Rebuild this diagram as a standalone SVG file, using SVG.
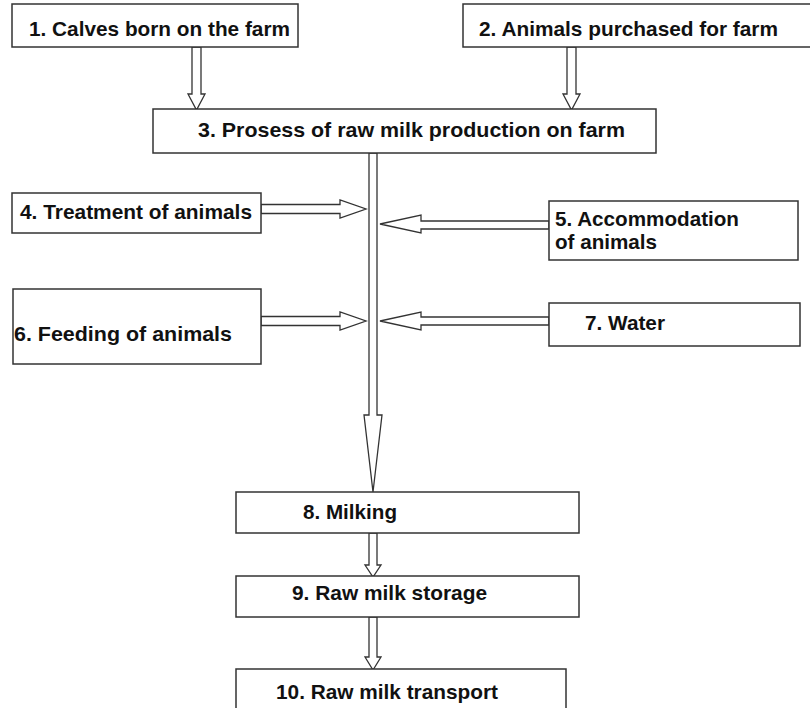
<svg xmlns="http://www.w3.org/2000/svg" width="810" height="708" viewBox="0 0 810 708">
<style>
.box{fill:#fff;stroke:#333;stroke-width:1.5}
.t{font-family:"Liberation Sans",Arial,sans-serif;font-weight:bold;font-size:21px;fill:#111}
.arr{fill:#fff;stroke:#333;stroke-width:1.3;stroke-linejoin:miter}
</style>
<rect width="810" height="708" fill="#fff"/>
<g id="connectors">
<polygon class="arr" points="192,47 201,47 201,94 205,94 196.5,110 188,94 192,94"/>
<polygon class="arr" points="567,47 576,47 576,94 580,94 571.5,110 563,94 567,94"/>
<polygon class="arr" points="369,153 377,153 377,415 382,415 373,492 364,415 369,415"/>
<polygon class="arr" points="261,204.5 340,204.5 340,200 366,209 340,218 340,213.5 261,213.5"/>
<polygon class="arr" points="549,221 421,221 421,215 380,224 421,233 421,229 549,229"/>
<polygon class="arr" points="261,316.5 340,316.5 340,312 366,321 340,330 340,325.5 261,325.5"/>
<polygon class="arr" points="549,317 421,317 421,312 380,321 421,330 421,325 549,325"/>
<polygon class="arr" points="369,533 377,533 377,565 381,565 373,577 365,565 369,565"/>
<polygon class="arr" points="369,617 377,617 377,657 381,657 373,670 365,657 369,657"/>
</g>
<g id="n1"><rect class="box" x="12" y="4" width="286" height="43"/><text class="t" x="29" y="36" textLength="261" lengthAdjust="spacingAndGlyphs" font-size="23.5">1. Calves born on the farm</text></g>
<g id="n2"><rect class="box" x="463" y="4" width="350" height="43"/><text class="t" x="479" y="36" textLength="299" lengthAdjust="spacingAndGlyphs" font-size="23.5">2. Animals purchased for farm</text></g>
<g id="n3"><rect class="box" x="153" y="109" width="503" height="44"/><text class="t" x="198" y="137" textLength="427" lengthAdjust="spacingAndGlyphs">3. Prosess of raw milk production on farm</text></g>
<g id="n4"><rect class="box" x="12" y="193" width="249" height="40"/><text class="t" x="20" y="219" textLength="232" lengthAdjust="spacingAndGlyphs">4. Treatment of animals</text></g>
<g id="n5"><rect class="box" x="549" y="201" width="249" height="59"/><text class="t" x="555" y="226" textLength="184" lengthAdjust="spacingAndGlyphs">5. Accommodation</text><text class="t" x="555" y="249" textLength="102" lengthAdjust="spacingAndGlyphs">of animals</text></g>
<g id="n6"><rect class="box" x="13" y="289" width="248" height="75"/><text class="t" x="14" y="341" textLength="218" lengthAdjust="spacingAndGlyphs" font-size="22">6. Feeding of animals</text></g>
<g id="n7"><rect class="box" x="549" y="303" width="251" height="43"/><text class="t" x="585" y="330" textLength="80" lengthAdjust="spacingAndGlyphs">7. Water</text></g>
<g id="n8"><rect class="box" x="236" y="492" width="343" height="41"/><text class="t" x="303" y="519" textLength="94" lengthAdjust="spacingAndGlyphs" font-size="20">8. Milking</text></g>
<g id="n9"><rect class="box" x="236" y="576" width="343" height="41"/><text class="t" x="292" y="600" textLength="195" lengthAdjust="spacingAndGlyphs" font-size="20">9. Raw milk storage</text></g>
<g id="n10"><rect class="box" x="236" y="669" width="330" height="50"/><text class="t" x="276" y="699" textLength="222" lengthAdjust="spacingAndGlyphs" font-size="20">10. Raw milk transport</text></g>
</svg>
